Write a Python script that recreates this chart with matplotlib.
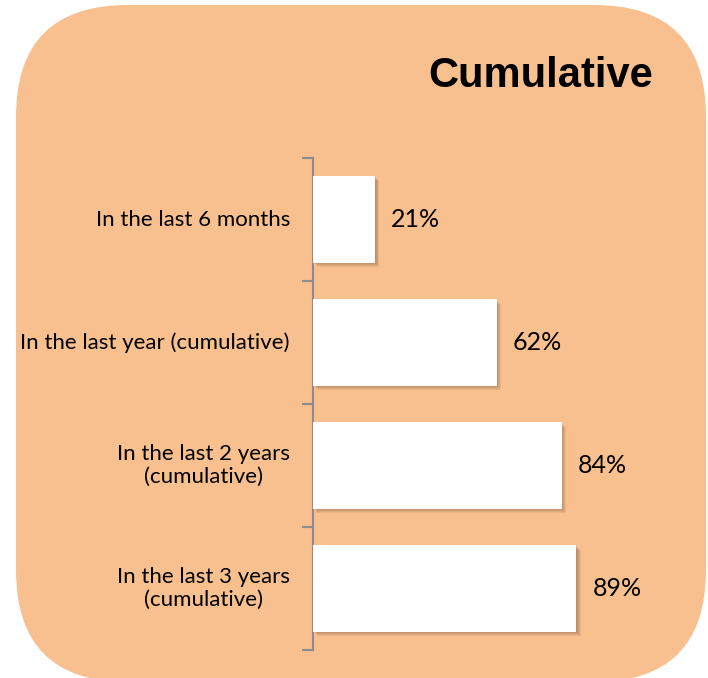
import matplotlib
matplotlib.use("Agg")
import matplotlib.pyplot as plt
from matplotlib.patches import FancyBboxPatch
from matplotlib import patheffects as pe
import matplotlib.transforms as mtransforms

categories = ["In the last 6 months", "In the last year (cumulative)",
              "In the last 2 years\n(cumulative)", "In the last 3 years\n(cumulative)"]
values = [0.21, 0.62, 0.84, 0.89]
value_labels = ["21%", "62%", "84%", "89%"]
title = "Cumulative"

W, H = 708, 678
DPI = 100
fig = plt.figure(figsize=(W / DPI, H / DPI), dpi=DPI)
fig.patch.set_facecolor("white")

# background panel
bg = fig.add_axes([0, 0, 1, 1])
bg.set_xlim(0, W)
bg.set_ylim(H, 0)
bg.axis("off")
panel = FancyBboxPatch((16, 5), 690, 677, boxstyle="round,pad=0,rounding_size=112",
                       facecolor="#F9C08F", edgecolor="none")
bg.add_patch(panel)
bg.text(653, 87, title, ha="right", va="baseline", fontsize=30,
        fontweight="bold", family="Liberation Sans", color="black")

# plot axes
x0, x1 = 313, 609
ytop, ybot = 158, 650
ax = fig.add_axes([x0 / W, (H - ybot) / H, (x1 - x0) / W, (ybot - ytop) / H])
ax.patch.set_alpha(0)
ax.set_xlim(0, 1)
ypos = list(range(len(categories)))
ax.set_ylim(len(categories) - 0.5, -0.5)

bars = ax.barh(ypos, values, height=0.7, color="white", edgecolor="none", zorder=3)
shadow_fx = [pe.SimplePatchShadow(offset=(d, -d), shadow_rgbFace="#6b4a30", alpha=0.10)
             for d in (3.0, 2.4, 1.8, 1.2, 0.6)]
for b in bars:
    b.set_path_effects(shadow_fx + [pe.Normal()])

for y, v, lab in zip(ypos, values, value_labels):
    ax.annotate(lab, xy=(v, y), xytext=(16, 0), textcoords="offset pixels",
                ha="left", va="center", fontsize=18, family="Lato", color="black")

# category labels
trans = mtransforms.blended_transform_factory(ax.transAxes, ax.transData)
offset = mtransforms.ScaledTranslation(-23 / DPI, 0, fig.dpi_scale_trans)
for y, c in zip(ypos, categories):
    ax.text(0, y, c, transform=trans + offset, ha="right", va="center",
            multialignment="center", fontsize=16, family="Lato", color="black",
            linespacing=1.2)

for s in ["top", "right", "bottom"]:
    ax.spines[s].set_visible(False)
ax.spines["left"].set_color("#8c8c8c")
ax.spines["left"].set_linewidth(1.5)
ax.set_xticks([])
ax.set_yticks([y - 0.5 for y in range(len(categories) + 1)])
ax.set_yticklabels([])
ax.tick_params(axis="y", length=8, width=1.5, color="#8c8c8c", direction="out")

fig.savefig("out.png", dpi=DPI, facecolor="white")
